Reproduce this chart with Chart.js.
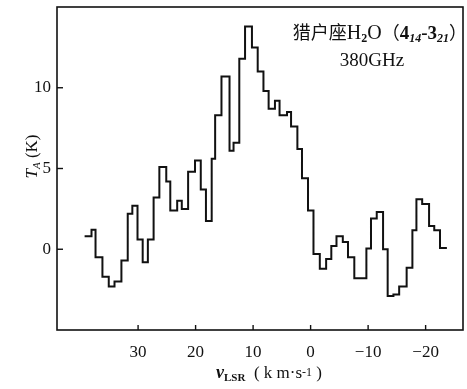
<!DOCTYPE html>
<html><head><meta charset="utf-8">
<script src="https://cdn.jsdelivr.net/npm/chart.js@4/dist/chart.umd.min.js"></script>
<style>html,body{margin:0;padding:0;background:#fff;}#wrap{width:467px;height:389px;}</style>
</head><body><div id="wrap"><canvas id="c" width="467" height="389"></canvas></div>
<script>
// Channel start velocities (km/s) and antenna temperatures (K)
const binStarts = [39.3,38.1,37.4,36.2,35.1,34.1,32.9,31.8,31.0,30.1,29.2,28.3,27.3,26.3,25.1,24.4,23.2,22.4,21.3,20.1,19.1,18.2,17.2,16.6,15.5,14.1,13.4,12.4,11.4,10.2,9.2,8.2,7.3,6.2,5.4,4.1,3.4,2.3,1.5,0.45,-0.5,-1.6,-2.7,-3.6,-4.5,-5.6,-6.5,-7.6,-9.7,-10.5,-11.5,-12.6,-13.4,-14.4,-15.4,-16.7,-17.7,-18.4,-19.4,-20.6,-21.5,-22.5];
const antennaTemps = [0.8,1.2,-0.5,-1.7,-2.3,-2.0,-0.7,2.2,2.7,0.6,-0.8,0.6,3.2,5.1,4.2,2.4,3.0,2.5,4.8,5.5,3.7,1.75,5.6,8.3,10.7,6.1,6.6,11.8,13.8,12.5,11.0,9.8,8.7,9.2,8.3,8.5,7.6,6.2,4.4,2.4,-0.3,-1.2,-0.6,0.2,0.8,0.45,-0.5,-1.8,0.05,1.9,2.3,0.0,-2.9,-2.8,-2.3,-1.15,1.17,3.1,2.8,1.44,1.17,0.08];
const lastChannelEnd = -23.7;
const xTickValues = [30,20,10,0,-10,-20];
const yTickValues = [0,5,10];
const xRange = [-26.5, 44.1];
const yRange = [-5, 15];

const points = binStarts.map((v,i)=>({x:v,y:antennaTemps[i]}));
points.push({x:lastChannelEnd, y:antennaTemps[antennaTemps.length-1]});

const SERIF = "'Liberation Serif', 'DejaVu Serif', serif";
const CJK = "'Noto Sans CJK SC', sans-serif";

function drawRich(ctx, parts, x, y, align){
  let w = 0;
  parts.forEach(p=>{ ctx.font = p.font; w += ctx.measureText(p.t).width; });
  let cx = align==='right' ? x - w : align==='center' ? x - w/2 : x;
  ctx.textAlign = 'left';
  ctx.textBaseline = 'alphabetic';
  parts.forEach(p=>{ ctx.font = p.font; ctx.fillText(p.t, cx, y + (p.dy||0)); cx += ctx.measureText(p.t).width; });
}

const decor = {
  id:'decor',
  afterDraw(chart){
    const ctx = chart.ctx, a = chart.chartArea, xs = chart.scales.x, ys = chart.scales.y;
    ctx.save();
    ctx.strokeStyle = '#111'; ctx.fillStyle = '#111'; ctx.lineWidth = 1.6;
    ctx.strokeRect(a.left, a.top, a.right-a.left, a.bottom-a.top);
    ctx.lineWidth = 1.4;
    xTickValues.forEach(v=>{ const px = xs.getPixelForValue(v); ctx.beginPath(); ctx.moveTo(px,a.bottom); ctx.lineTo(px,a.bottom-5); ctx.stroke(); });
    yTickValues.forEach(v=>{ const py = ys.getPixelForValue(v); ctx.beginPath(); ctx.moveTo(a.left,py); ctx.lineTo(a.left+6,py); ctx.stroke(); });
    // annotation
    drawRich(ctx, [
      {t:'猎户座', font:'18px '+CJK},
      {t:'H', font:'20px '+SERIF},
      {t:'2', font:'bold 12px '+SERIF, dy:3},
      {t:'O', font:'20px '+SERIF},
      {t:'（', font:'18px '+CJK},
      {t:'4', font:'bold 19px '+SERIF},
      {t:'14', font:'bold italic 12px '+SERIF, dy:3},
      {t:'-3', font:'bold 19px '+SERIF},
      {t:'21', font:'bold italic 12px '+SERIF, dy:3},
      {t:'）', font:'18px '+CJK}
    ], a.right+4, a.top+32, 'right');
    drawRich(ctx, [{t:'380GHz', font:'19px '+SERIF}], a.right-91, a.top+59, 'center');
    // x title
    drawRich(ctx, [
      {t:'v', font:'italic bold 18px '+SERIF},
      {t:'LSR', font:'bold 11px '+SERIF, dy:3},
      {t:'  ( k m·s', font:'17px '+SERIF},
      {t:'-1', font:'12px '+SERIF, dy:-2},
      {t:' )', font:'17px '+SERIF}
    ], (a.left+a.right)/2 + 9, 378, 'center');
    // y title
    ctx.translate(a.left-20, (a.top+a.bottom)/2 - 12);
    ctx.rotate(-Math.PI/2);
    drawRich(ctx, [
      {t:'T', font:'italic 17px '+SERIF},
      {t:'A', font:'italic 11px '+SERIF, dy:3},
      {t:' (K)', font:'17px '+SERIF}
    ], 0, 0, 'center');
    ctx.restore();
  }
};

new Chart(document.getElementById('c'), {
  type:'line',
  data:{ datasets:[{ data:points, stepped:true, borderColor:'#111', borderWidth:2, pointRadius:0, fill:false, tension:0 }]},
  options:{
    responsive:false, animation:false, devicePixelRatio:1,
    layout:{ padding:{ left:0, right:4, top:7, bottom:0 } },
    plugins:{ legend:{display:false}, tooltip:{enabled:false} },
    scales:{
      x:{ type:'linear', reverse:true, min:xRange[0], max:xRange[1],
          afterBuildTicks:s=>{ s.ticks = xTickValues.map(v=>({value:v})); },
          afterFit:s=>{ s.height = 59; s.paddingLeft = 0; s.paddingRight = 0; },
          grid:{display:false, drawTicks:false}, border:{display:false},
          ticks:{ color:'#111', padding:12, font:{family:SERIF, size:17}, maxRotation:0, autoSkip:false, callback:v=>String(v).replace('-','−') } },
      y:{ type:'linear', min:yRange[0], max:yRange[1],
          afterBuildTicks:s=>{ s.ticks = yTickValues.map(v=>({value:v})); },
          afterFit:s=>{ s.width = 57; s.paddingTop = 0; s.paddingBottom = 0; },
          grid:{display:false, drawTicks:false}, border:{display:false},
          ticks:{ color:'#111', padding:6, font:{family:SERIF, size:17} } }
    }
  },
  plugins:[decor]
});
</script></body></html>
